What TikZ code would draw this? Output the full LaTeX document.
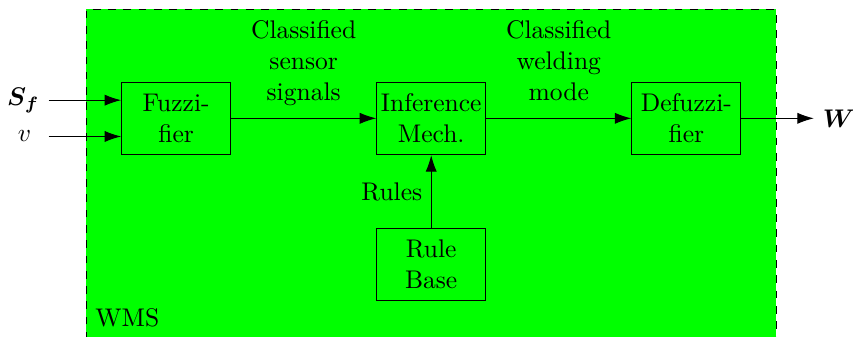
\documentclass[tikz,border=0pt]{standalone}
\usepackage{amsmath,amsfonts,amssymb}
\usepackage{tikz}
\usetikzlibrary{arrows.meta,positioning}

\begin{document}
\begin{tikzpicture}[
  blockbox/.style={draw, rectangle, minimum width=1.5cm, minimum height=1cm, inner sep=1pt, align=center},
  sig/.style={-{Latex[length=6.5pt,width=4.4pt]}}
]
\useasboundingbox (-5.94,-3) rectangle (5.81,1.63);
\filldraw[fill=green, dashed] (-4.75,-3.05) rectangle (4.75,1.5);
\node[above right] (wms) at (-4.75,-3) {WMS};
% blocks
\node[blockbox] (infer) at (0,0) {Inference\\Mech.};
\node[blockbox, left=2cm of infer] (fuzz) {Fuzzi-\\fier};
\node[blockbox, right=2cm of infer] (defuzz) {Defuzzi-\\fier};
\node[blockbox, below=1cm of infer] (rulebase) {Rule\\Base};
% inputs and output
\node[left=1cm of fuzz.west, yshift=0.25cm, minimum width=0.65cm] (sflab) {$\boldsymbol{S_f}$};
\node[left=1cm of fuzz.west, yshift=-0.25cm, minimum width=0.65cm] (vlab) {$v$};
\node[right=1cm of defuzz] (wlab) {$\boldsymbol{W}$};
\draw[sig] (sflab) -- (sflab -| fuzz.west);
\draw[sig] (vlab) -- (vlab -| fuzz.west);
\draw[sig] (defuzz) -- (wlab);
% signals between blocks
\draw[sig] (fuzz) -- node[above, align=center] {Classified\\sensor\\signals\strut} (infer);
\draw[sig] (infer) -- node[above, align=center] {Classified\\welding\\mode\strut} (defuzz);
\draw[sig] (rulebase) -- node[left] {Rules} (infer);
\end{tikzpicture}
\end{document}
